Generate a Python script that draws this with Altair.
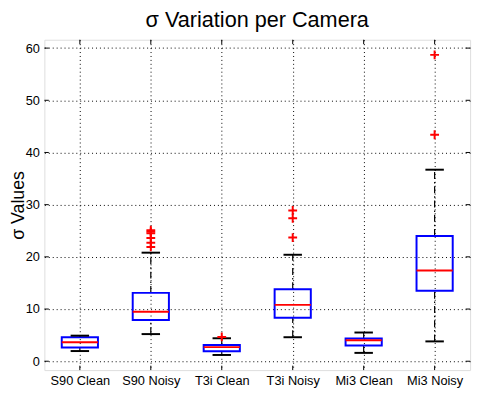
import json
import altair as alt
import pandas as pd

# ---- data ----
cameras = ["S90 Clean", "S90 Noisy", "T3i Clean", "T3i Noisy", "Mi3 Clean", "Mi3 Noisy"]
lower_whisker = [1.95, 5.2, 1.2, 4.6, 1.6, 3.8]
q1 = [2.65, 7.9, 1.9, 8.35, 3.0, 13.5]
median = [3.65, 9.5, 2.7, 10.8, 4.0, 17.4]
q3 = [4.6, 13.1, 3.1, 13.8, 4.35, 24.0]
upper_whisker = [4.9, 20.8, 4.4, 20.4, 5.5, 36.7]

outlier_camera = ["S90 Noisy"] * 6 + ["T3i Clean"] + ["T3i Noisy"] * 3 + ["Mi3 Noisy"] * 2
outlier_value = [25.1, 24.8, 24.5, 23.6, 22.7, 21.9, 4.65, 28.9, 27.4, 23.7, 58.7, 43.4]

y_ticks = [0, 10, 20, 30, 40, 50, 60]

W, H = 433, 336
FONT = "Liberation Sans"

positions = list(range(1, len(cameras) + 1))
boxes = pd.DataFrame({
    "camera": cameras, "pos": positions, "lo": lower_whisker, "q1": q1,
    "med": median, "q3": q3, "hi": upper_whisker,
})
outl = pd.DataFrame({"camera": outlier_camera, "value": outlier_value})
outl["pos"] = outl["camera"].map({c: i + 1 for i, c in enumerate(cameras)})
yt = pd.DataFrame({"v": y_ticks})
xt = pd.DataFrame({"pos": positions})

label_expr = json.dumps(cameras) + "[round(datum.value) - 1]"

xscale = alt.Scale(domain=[0.5, len(cameras) + 0.5], nice=False, zero=False)
yscale = alt.Scale(domain=[-1.7, 61.6], nice=False, zero=False)

xaxis = alt.Axis(values=positions, labelExpr=label_expr, grid=True, gridDash=[1, 3],
                 gridColor="black", gridOpacity=1, gridWidth=1, domain=False, ticks=False,
                 tickSize=0, labelPadding=5, labelFont=FONT, labelFontSize=13,
                 labelColor="black")
yaxis = alt.Axis(values=y_ticks, grid=True, gridDash=[1, 3], gridColor="black",
                 gridOpacity=1, gridWidth=1, domain=False, ticks=False, tickSize=0,
                 labelPadding=5, labelFont=FONT, labelFontSize=13, labelColor="black",
                 title="σ Values", titleFont=FONT, titleFontSize=18, titleFontWeight="normal",
                 titleColor="black", titleAngle=270, titleX=-21, titleY=H / 2,
                 titleAlign="center", titleBaseline="alphabetic")

base = alt.Chart(boxes).transform_calculate(
    xl="datum.pos - 0.255", xr="datum.pos + 0.255",
    cl="datum.pos - 0.13", cr="datum.pos + 0.13",
)

whisk_dash = [7, 3, 1.5, 3]
up_whisk = base.mark_rule(color="black", strokeWidth=1.2, strokeDash=whisk_dash).encode(
    x=alt.X("pos:Q", scale=xscale, axis=xaxis, title=None),
    y=alt.Y("q3:Q", scale=yscale, axis=yaxis),
    y2="hi:Q",
)
lo_whisk = base.mark_rule(color="black", strokeWidth=1.2, strokeDash=whisk_dash).encode(
    x="pos:Q", y="lo:Q", y2="q1:Q")
box = base.mark_rect(fillOpacity=0, stroke="#0000FF", strokeWidth=2).encode(
    x="xl:Q", x2="xr:Q", y="q1:Q", y2="q3:Q")
med = base.mark_rule(color="#FF0000", strokeWidth=2).encode(
    x="xl:Q", x2="xr:Q", y="med:Q")
cap_hi = base.mark_rule(color="black", strokeWidth=2).encode(
    x="cl:Q", x2="cr:Q", y="hi:Q")
cap_lo = base.mark_rule(color="black", strokeWidth=2).encode(
    x="cl:Q", x2="cr:Q", y="lo:Q")
pts = alt.Chart(outl).mark_point(
    shape="M-1,0L1,0M0,-1L0,1", filled=False, stroke="#FF0000", strokeWidth=2, size=80,
    opacity=1).encode(x="pos:Q", y="value:Q")

tl = 4.5
tick_l = alt.Chart(yt).mark_rule(color="black", strokeWidth=1).encode(
    y="v:Q", x=alt.value(0), x2=alt.value(tl))
tick_r = alt.Chart(yt).mark_rule(color="black", strokeWidth=1).encode(
    y="v:Q", x=alt.value(W - tl), x2=alt.value(W))
tick_b = alt.Chart(xt).mark_rule(color="black", strokeWidth=1).encode(
    x="pos:Q", y=alt.value(H - tl), y2=alt.value(H))
tick_t = alt.Chart(xt).mark_rule(color="black", strokeWidth=1).encode(
    x="pos:Q", y=alt.value(0), y2=alt.value(tl))

chart = alt.layer(
    up_whisk, lo_whisk, box, med, cap_hi, cap_lo, pts, tick_l, tick_r, tick_b, tick_t
).properties(
    width=W, height=H,
    title=alt.TitleParams("σ Variation per Camera", font=FONT, fontSize=22,
                          fontWeight="normal", color="black", anchor="middle",
                          frame="group", offset=7),
    autosize=alt.AutoSizeParams(type="none"),
    padding={"left": 37, "top": 29, "right": 6, "bottom": 20},
).configure_view(stroke="black", strokeWidth=1).configure(background="white")

chart.save("out.html", embed_options={"renderer": "svg", "actions": False})
